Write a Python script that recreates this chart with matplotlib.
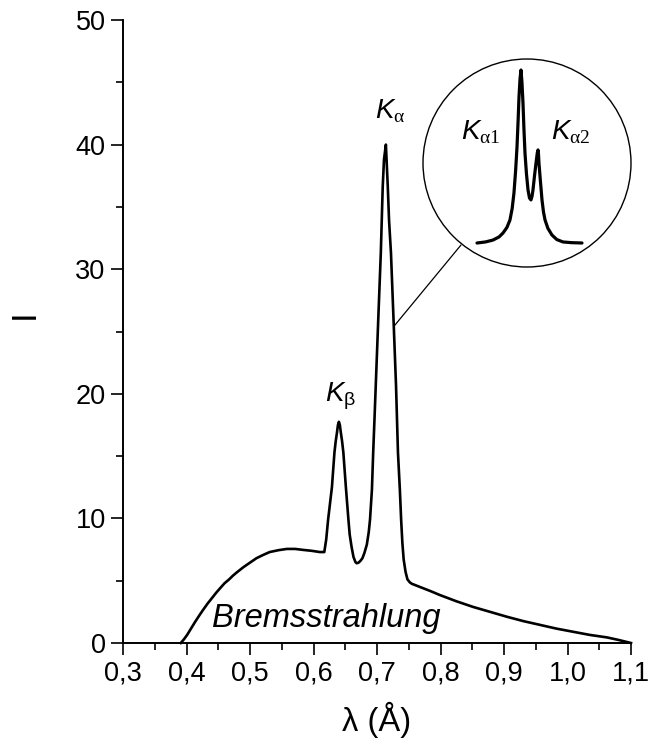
import matplotlib
matplotlib.use("Agg")
import matplotlib.pyplot as plt
from matplotlib.patches import Ellipse, ConnectionPatch

plt.rcParams['font.family'] = ['Liberation Sans', 'DejaVu Sans']
plt.rcParams['mathtext.fontset'] = 'custom'
plt.rcParams['mathtext.it'] = 'Liberation Sans:italic'
plt.rcParams['mathtext.rm'] = 'Liberation Serif'
plt.rcParams['mathtext.sf'] = 'Liberation Sans'

# spectrum: wavelength (A) and intensity
lam = [0.391, 0.396, 0.401, 0.407, 0.413, 0.420, 0.426, 0.433, 0.440, 0.447, 0.453,
       0.460, 0.467, 0.473, 0.480, 0.490, 0.500, 0.510, 0.520, 0.531, 0.545, 0.558,
       0.571, 0.584, 0.597, 0.610, 0.617,
       0.620, 0.623, 0.626, 0.629, 0.631, 0.633, 0.635, 0.637, 0.6385, 0.640, 0.6415,
       0.643, 0.645, 0.647, 0.649, 0.651, 0.653, 0.655, 0.657, 0.660, 0.663, 0.666,
       0.668, 0.671, 0.674, 0.677, 0.680, 0.684, 0.687, 0.689, 0.692, 0.694, 0.696,
       0.698, 0.702, 0.706, 0.709, 0.711, 0.714, 0.717, 0.719, 0.722, 0.726, 0.730,
       0.733, 0.736, 0.738, 0.740, 0.742, 0.745, 0.748, 0.752, 0.755,
       0.770, 0.785, 0.799, 0.825, 0.851, 0.878, 0.905, 0.931, 0.957, 0.983, 1.009,
       1.035, 1.062, 1.080, 1.100]
inten = [0.0, 0.3, 0.65, 1.15, 1.65, 2.2, 2.65, 3.15, 3.6, 4.05, 4.4,
         4.8, 5.1, 5.4, 5.7, 6.1, 6.45, 6.8, 7.05, 7.3, 7.45, 7.55,
         7.55, 7.47, 7.4, 7.3, 7.3,
         8.3, 9.9, 11.2, 12.5, 13.9, 15.3, 16.2, 16.9, 17.5, 17.75, 17.5,
         16.9, 16.2, 15.3, 13.9, 12.5, 11.2, 9.9, 8.7, 7.7, 6.9, 6.5,
         6.4, 6.45, 6.6, 6.8, 7.2, 7.9, 8.9, 9.9, 12.3, 15.3, 17.9,
         20.6, 26.0, 31.3, 36.6, 38.8, 40.0, 36.6, 33.9, 31.3, 26.0, 20.6,
         15.3, 12.3, 9.9, 8.0, 6.7, 5.7, 5.1, 4.85, 4.75,
         4.45, 4.15, 3.85, 3.35, 2.9, 2.5, 2.1, 1.75, 1.45, 1.15, 0.9,
         0.65, 0.45, 0.25, 0.0]

# zoomed K-alpha doublet (relative units)
inset_x = [0.0, 0.080, 0.152, 0.210, 0.248, 0.285, 0.314, 0.335, 0.352, 0.368, 0.381,
           0.391, 0.400, 0.410, 0.419, 0.428, 0.438, 0.447, 0.457, 0.471, 0.486, 0.500,
           0.514, 0.524, 0.533, 0.548, 0.562, 0.574, 0.581, 0.586, 0.590, 0.605, 0.619,
           0.633, 0.648, 0.675, 0.714, 0.760, 0.819, 0.900, 1.0]
inset_y = [0.0, 0.006, 0.017, 0.035, 0.058, 0.090, 0.133, 0.200, 0.289, 0.420, 0.555,
           0.700, 0.844, 0.950, 1.0, 0.930, 0.809, 0.660, 0.520, 0.400, 0.306, 0.260,
           0.249, 0.270, 0.306, 0.390, 0.462, 0.520, 0.538, 0.510, 0.462, 0.350, 0.249,
           0.180, 0.133, 0.085, 0.046, 0.020, 0.006, 0.002, 0.0]

x_ticks = [0.3, 0.4, 0.5, 0.6, 0.7, 0.8, 0.9, 1.0, 1.1]
x_labels = ['0,3', '0,4', '0,5', '0,6', '0,7', '0,8', '0,9', '1,0', '1,1']
y_ticks = [0, 10, 20, 30, 40, 50]

W, H = 650, 744
fig = plt.figure(figsize=(6.5, 7.44), dpi=100)
ax = fig.add_axes([123/W, 1 - 643/H, 508/W, 623/H])

ax.plot(lam, inten, color='black', lw=1.9, solid_joinstyle='round', clip_on=False)
ax.set_xlim(0.3, 1.1)
ax.set_ylim(0, 50)

ax.set_xticks(x_ticks)
ax.set_xticklabels(x_labels)
ax.set_xticks([t + 0.05 for t in x_ticks[:-1]], minor=True)
ax.set_yticks(y_ticks)
ax.set_yticks([t + 5 for t in y_ticks[:-1]], minor=True)
ax.tick_params(which='major', direction='out', length=8.5, width=1.2, labelsize=19.5, pad=4)
ax.tick_params(which='minor', direction='out', length=5, width=1.2)
for s in ['top', 'right']:
    ax.spines[s].set_visible(False)
for s in ['left', 'bottom']:
    ax.spines[s].set_linewidth(1.4)

ax.set_xlabel('λ (Å)', fontsize=23.5, labelpad=11)
ax.set_ylabel('I', fontsize=25, rotation=90)
ax.yaxis.set_label_coords(-0.162, 0.528)

ax.text(0.721, 42.1, r'$K_{\mathrm{α}}$', fontsize=20, ha='center', va='baseline')
ax.text(0.643, 19.4, r'$K_{\mathsf{β}}$', fontsize=20, ha='center', va='baseline')
ax.text(0.440, 1.3, 'Bremsstrahlung', fontsize=23.5, style='italic', ha='left', va='baseline')

# magnifier circle
circ = Ellipse((527/W, 1 - 163/H), 2*104/W, 2*104/H, transform=fig.transFigure,
               fill=False, edgecolor='black', lw=1.0)
fig.patches.append(circ)
con = ConnectionPatch(xyA=(0.728, 25.5), coordsA=ax.transData,
                      xyB=(461/W, 1 - 245/H), coordsB=fig.transFigure,
                      color='black', lw=0.9)
fig.add_artist(con)

axi = fig.add_axes([477/W, 1 - 243/H, 105/W, 173/H])
axi.plot(inset_x, inset_y, color='black', lw=2.3, solid_capstyle='round', clip_on=False)
axi.set_xlim(0, 1)
axi.set_ylim(0, 1)
axi.axis('off')
fig.text(461/W, 1 - 139/H, r'$K_{\mathrm{α1}}$', fontsize=20, ha='left', va='baseline')
fig.text(551/W, 1 - 139/H, r'$K_{\mathrm{α2}}$', fontsize=20, ha='left', va='baseline')

fig.savefig('out.png', dpi=100)
